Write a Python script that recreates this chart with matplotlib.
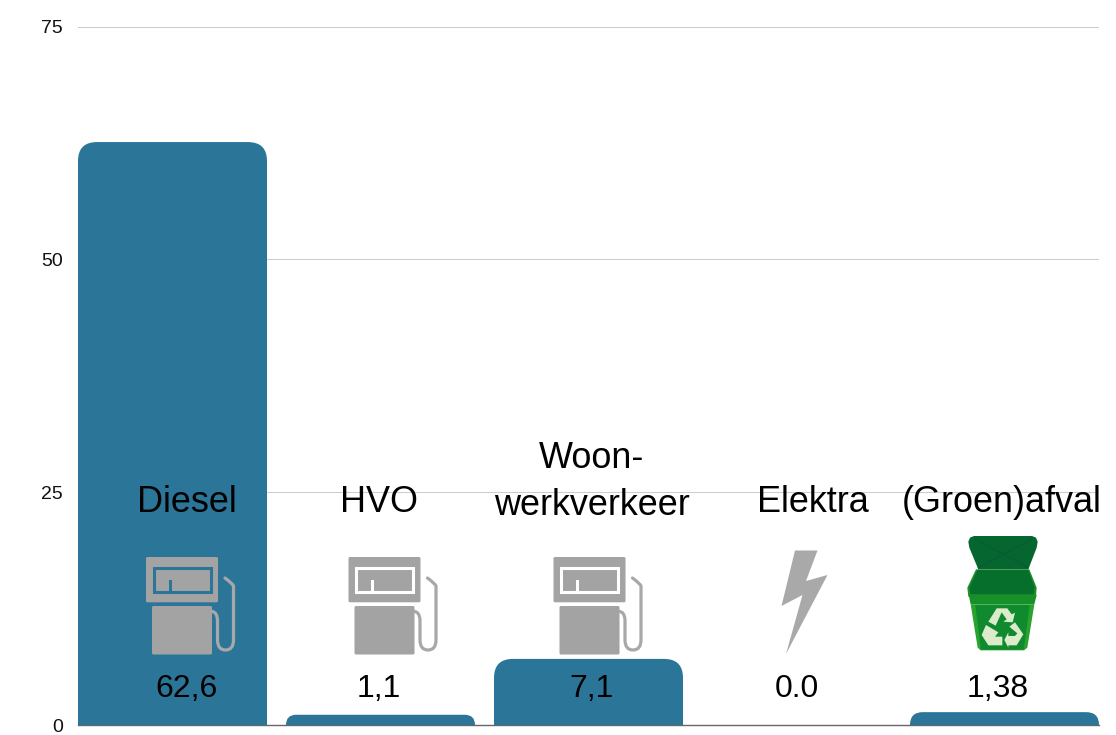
import matplotlib
matplotlib.use("Agg")
import matplotlib.pyplot as plt
from matplotlib.path import Path
from matplotlib.patches import PathPatch, Polygon, Rectangle, FancyBboxPatch
from matplotlib.transforms import Affine2D

plt.rcParams["font.family"] = ["Liberation Sans", "DejaVu Sans"]

categories = ["Diesel", "HVO", "Woon-\nwerkverkeer", "Elektra", "(Groen)afval"]
values = [62.6, 1.1, 7.1, 0.0, 1.38]
value_labels = ["62,6", "1,1", "7,1", "0.0", "1,38"]
y_ticks = [0, 25, 50, 75]

BLUE = "#2b7599"
GREY = "#a3a3a3"

W, H = 1116, 735
fig = plt.figure(figsize=(W / 100, H / 100), dpi=100)
ax = fig.add_axes([78 / W, (H - 725) / H, (1099 - 78) / W, (725 - 26.6) / H])

# bar step is 208 px, bar width 189 px
bar_w = 189 / 208
ax.set_xlim(-bar_w / 2, len(values) - 1 + bar_w / 2)
ax.set_ylim(0, 75)
px_x = 208
px_y = 698.4 / 75


def round_bar(x, v, radius=19):
    # bar with only the top corners rounded
    r = min(radius, v * px_y)
    rx, ry = r / px_x, r / px_y
    l, r_ = x - bar_w / 2, x + bar_w / 2
    verts = [(l, 0), (l, v - ry), (l, v), (l + rx, v), (r_ - rx, v), (r_, v), (r_, v - ry), (r_, 0), (l, 0)]
    codes = [Path.MOVETO, Path.LINETO, Path.CURVE3, Path.CURVE3, Path.LINETO, Path.CURVE3, Path.CURVE3, Path.LINETO, Path.CLOSEPOLY]
    return PathPatch(Path(verts, codes), fc=BLUE, ec="none", zorder=3)


for i, v in enumerate(values):
    if v > 0:
        ax.add_patch(round_bar(i, v))

ax.set_yticks(y_ticks)
ax.set_xticks([])
ax.grid(axis="y", color="#cccccc", lw=0.75)
ax.set_axisbelow(True)
for s in ["top", "right", "left"]:
    ax.spines[s].set_visible(False)
ax.spines["bottom"].set_color("#666666")
ax.spines["bottom"].set_linewidth(1)
ax.spines["bottom"].set_zorder(2)
ax.tick_params(axis="y", length=0, pad=11, labelsize=14, labelcolor="#111111")
ax.yaxis.get_gridlines()[0].set_visible(False)

# overlay in image pixels, y pointing down
pix = Affine2D().scale(1, -1).translate(0, H)


def add(p):
    p.set_transform(pix)
    p.set_clip_on(False)
    p.set_zorder(5)
    fig.add_artist(p)


def poly(pts, color, **kw):
    add(Polygon(pts, closed=True, fc=color, ec="none", **kw))


def pump(dx, bg):
    add(FancyBboxPatch((146 + dx, 557), 72, 45.3, boxstyle="round,pad=0,rounding_size=1.5", fc=GREY, ec="none"))
    add(Rectangle((153.5 + dx, 568), 57, 23.5, fc="none", ec=bg, lw=2.2))
    add(Rectangle((168.5 + dx, 580), 3, 11, fc=bg, ec="none"))
    add(FancyBboxPatch((152 + dx, 606), 60, 48.5, boxstyle="round,pad=0,rounding_size=1.5", fc=GREY, ec="none"))
    hose = [(212, 611.5), (217, 612), (217.5, 620), (217.5, 640), (217.5, 650), (225.5, 650),
            (233.5, 650), (233.5, 640), (233.5, 586), (233, 584), (225, 578)]
    codes = [Path.MOVETO, Path.CURVE3, Path.CURVE3, Path.LINETO, Path.CURVE3, Path.CURVE3,
             Path.CURVE3, Path.CURVE3, Path.LINETO, Path.CURVE3, Path.CURVE3]
    add(PathPatch(Path([(a + dx, b) for a, b in hose], codes), fc="none", ec="#a8a8a8", lw=2.3, capstyle="round"))


pump(0, BLUE)
pump(202.5, "white")
pump(407.5, "white")

# lightning bolt
poly([(795, 550.5), (817.5, 550.5), (806, 581), (827.5, 575), (786, 654), (802.5, 595), (781.5, 606)], "#a9a9a9")


# recycling bin, points taken in a 3x crop anchored at (900, 525)
def b(pts):
    return [(900 + x / 3, 525 + y / 3) for x, y in pts]


poly(b([(222, 33), (396, 33), (408, 38), (413, 50), (410, 68), (385, 133), (235, 133), (208, 68), (205, 50), (210, 38)]), "#05662f")
for seg in ([(225, 42), (385, 128)], [(395, 42), (235, 128)]):
    add(plt.Line2D(*zip(*b(seg)), color="#0a5a3a", lw=0.8, transform=pix))

poly(b([(228, 133), (388, 133), (410, 188), (408, 215), (205, 215), (202, 188)]), "#1c8f2b")
poly(b([(232, 135), (385, 135), (404, 188), (400, 208), (212, 208), (208, 188)]), "#076f2c")
poly(b([(206, 210), (410, 210), (403, 238), (212, 238)]), "#189029")
poly(b([(212, 238), (403, 238), (382, 368), (372, 376), (242, 376), (233, 368)]), "#28a32d")
poly(b([(226, 240), (389, 240), (371, 374), (243, 374)]), "#0f8a2f")

PALE = "#dcebc9"
poly(b([(265, 290), (290, 250), (322, 250), (335, 268), (345, 263), (338, 292), (310, 290), (320, 283), (305, 262), (287, 302)]), PALE)
poly(b([(250, 318), (258, 300), (295, 322), (285, 335), (307, 335), (307, 361), (265, 361), (245, 330)]), PALE)
poly(b([(328, 305), (345, 292), (370, 328), (350, 361), (325, 361), (325, 368), (313, 345), (325, 322), (325, 333), (345, 333), (352, 325)]), PALE)

# labels, centres read in image pixels
label_x = [186.7, 379, 592, 813, 1002]
label_y = [503, 503, 482, 503, 503]
value_x = [186.7, 379, 592, 797, 998]
for name, x, y in zip(categories, label_x, label_y):
    fig.text(x, y, name, transform=pix, ha="center", va="center", fontsize=25.9, color="black",
             linespacing=1.45, zorder=6)
for lab, x in zip(value_labels, value_x):
    fig.text(x, 689, lab, transform=pix, ha="center", va="center", fontsize=23, color="black", zorder=6)

fig.savefig("out.png", dpi=100)
